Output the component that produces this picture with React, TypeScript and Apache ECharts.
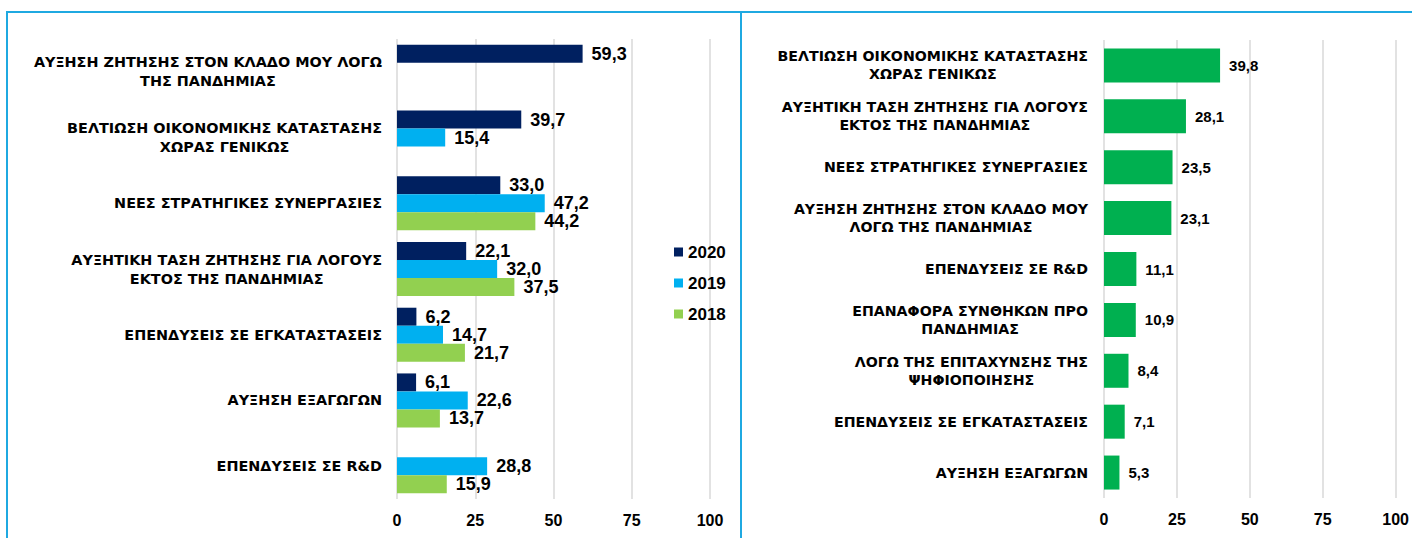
import React, { useEffect, useRef } from "react";
import * as echarts from "echarts";

const leftCategories = [
  "ΑΥΞΗΣΗ ΖΗΤΗΣΗΣ ΣΤΟΝ ΚΛΑΔΟ ΜΟΥ ΛΟΓΩ\nΤΗΣ ΠΑΝΔΗΜΙΑΣ",
  "ΒΕΛΤΙΩΣΗ ΟΙΚΟΝΟΜΙΚΗΣ ΚΑΤΑΣΤΑΣΗΣ\nΧΩΡΑΣ ΓΕΝΙΚΩΣ",
  "ΝΕΕΣ ΣΤΡΑΤΗΓΙΚΕΣ ΣΥΝΕΡΓΑΣΙΕΣ",
  "ΑΥΞΗΤΙΚΗ ΤΑΣΗ ΖΗΤΗΣΗΣ ΓΙΑ ΛΟΓΟΥΣ\nΕΚΤΟΣ ΤΗΣ ΠΑΝΔΗΜΙΑΣ",
  "ΕΠΕΝΔΥΣΕΙΣ ΣΕ ΕΓΚΑΤΑΣΤΑΣΕΙΣ",
  "ΑΥΞΗΣΗ ΕΞΑΓΩΓΩΝ",
  "ΕΠΕΝΔΥΣΕΙΣ ΣΕ R&D",
];
const left2020 = [59.3, 39.7, 33.0, 22.1, 6.2, 6.1, null];
const left2019 = [null, 15.4, 47.2, 32.0, 14.7, 22.6, 28.8];
const left2018 = [null, null, 44.2, 37.5, 21.7, 13.7, 15.9];
const seriesNames = ["2020", "2019", "2018"];

const rightCategories = [
  "ΒΕΛΤΙΩΣΗ ΟΙΚΟΝΟΜΙΚΗΣ ΚΑΤΑΣΤΑΣΗΣ\nΧΩΡΑΣ ΓΕΝΙΚΩΣ",
  "ΑΥΞΗΤΙΚΗ ΤΑΣΗ ΖΗΤΗΣΗΣ ΓΙΑ ΛΟΓΟΥΣ\nΕΚΤΟΣ ΤΗΣ ΠΑΝΔΗΜΙΑΣ",
  "ΝΕΕΣ ΣΤΡΑΤΗΓΙΚΕΣ ΣΥΝΕΡΓΑΣΙΕΣ",
  "ΑΥΞΗΣΗ ΖΗΤΗΣΗΣ ΣΤΟΝ ΚΛΑΔΟ ΜΟΥ\nΛΟΓΩ ΤΗΣ ΠΑΝΔΗΜΙΑΣ",
  "ΕΠΕΝΔΥΣΕΙΣ ΣΕ R&D",
  "ΕΠΑΝΑΦΟΡΑ ΣΥΝΘΗΚΩΝ ΠΡΟ\nΠΑΝΔΗΜΙΑΣ",
  "ΛΟΓΩ ΤΗΣ ΕΠΙΤΑΧΥΝΣΗΣ ΤΗΣ\nΨΗΦΙΟΠΟΙΗΣΗΣ",
  "ΕΠΕΝΔΥΣΕΙΣ ΣΕ ΕΓΚΑΤΑΣΤΑΣΕΙΣ",
  "ΑΥΞΗΣΗ ΕΞΑΓΩΓΩΝ",
];
const rightValues = [39.8, 28.1, 23.5, 23.1, 11.1, 10.9, 8.4, 7.1, 5.3];

const axisMin = 0;
const axisMax = 100;
const axisInterval = 25;

const COLORS = ["#002060", "#00B0F0", "#92D050"];
const RIGHT_COLOR = "#00B050";
const FRAME = "#1FA9E1";
const GRID_LINE = "#D9D9D9";

const fmt = (p: any) =>
  p.value == null ? "" : Number(p.value).toFixed(1).replace(".", ",");

const catFormatter = (v: string) =>
  v
    .split("\n")
    .map((l) => `{c|${l}}`)
    .join("\n");

const catRich = (fontSize: number, lineHeight: number) => ({
  c: {
    align: "center",
    fontFamily: "DejaVu Sans",
    fontWeight: "bold",
    fontSize,
    color: "#000",
    lineHeight,
  },
});

const valueAxis = (gridIndex: number) => ({
  type: "value",
  gridIndex,
  min: axisMin,
  max: axisMax,
  interval: axisInterval,
  axisLine: { show: false },
  axisTick: { show: false },
  splitLine: { show: true, lineStyle: { color: GRID_LINE, width: 1.5 } },
  axisLabel: {
    margin: 13,
    fontFamily: "Liberation Sans",
    fontWeight: "bold",
    fontSize: 16,
    color: "#000",
  },
});

const catAxis = (
  gridIndex: number,
  data: string[],
  margin: number,
  fontSize: number,
  lineHeight: number
) => ({
  type: "category",
  gridIndex,
  data,
  inverse: true,
  axisLine: { show: false },
  axisTick: { show: false },
  splitLine: { show: false },
  axisLabel: {
    margin,
    formatter: catFormatter,
    rich: catRich(fontSize, lineHeight),
    interval: 0,
  },
});

export default function App() {
  const ref = useRef<HTMLDivElement>(null);

  useEffect(() => {
    if (!ref.current) return;
    const chart = echarts.init(ref.current, undefined, { renderer: "svg" });
    const leftData = [left2020, left2019, left2018];
    const option: any = {
      animation: false,
      backgroundColor: "#fff",
      grid: [
        { left: 397, right: 702, top: 39, bottom: 39 },
        { left: 1104, right: 15, top: 40, bottom: 40 },
      ],
      xAxis: [valueAxis(0), valueAxis(1)],
      yAxis: [
        catAxis(0, leftCategories, 15, 14.4, 19),
        catAxis(1, rightCategories, 16, 14.2, 18),
      ],
      legend: {
        orient: "vertical",
        left: 669,
        top: 238,
        itemWidth: 9,
        itemHeight: 9,
        itemGap: 13,
        icon: "rect",
        data: seriesNames,
        textStyle: {
          fontFamily: "Liberation Sans",
          fontWeight: "bold",
          fontSize: 17,
          color: "#000",
          lineHeight: 18,
        },
      },
      series: [
        ...seriesNames.map((name, i) => ({
          name,
          type: "bar",
          xAxisIndex: 0,
          yAxisIndex: 0,
          data: leftData[i],
          barWidth: 18,
          barGap: "0%",
          itemStyle: { color: COLORS[i] },
          label: {
            show: true,
            position: "right",
            distance: 9,
            formatter: fmt,
            fontFamily: "Liberation Sans",
            fontWeight: "bold",
            fontSize: 18,
            color: "#000",
          },
        })),
        {
          name: "right",
          type: "bar",
          xAxisIndex: 1,
          yAxisIndex: 1,
          data: rightValues,
          barWidth: 34,
          itemStyle: { color: RIGHT_COLOR },
          label: {
            show: true,
            position: "right",
            distance: 9,
            formatter: fmt,
            fontFamily: "Liberation Sans",
            fontWeight: "bold",
            fontSize: 15,
            color: "#000",
          },
        },
      ],
      graphic: [
        {
          type: "line",
          shape: { x1: 6, y1: 12, x2: 1412, y2: 12 },
          style: { stroke: FRAME, lineWidth: 2 },
        },
        {
          type: "line",
          shape: { x1: 7, y1: 11, x2: 7, y2: 538 },
          style: { stroke: FRAME, lineWidth: 2 },
        },
        {
          type: "line",
          shape: { x1: 741, y1: 11, x2: 741, y2: 538 },
          style: { stroke: FRAME, lineWidth: 2 },
        },
      ],
    };
    chart.setOption(option);
    return () => chart.dispose();
  }, []);

  return (
    <div
      ref={ref}
      style={{ position: "fixed", left: 0, top: 0, width: 1412, height: 538 }}
    />
  );
}
